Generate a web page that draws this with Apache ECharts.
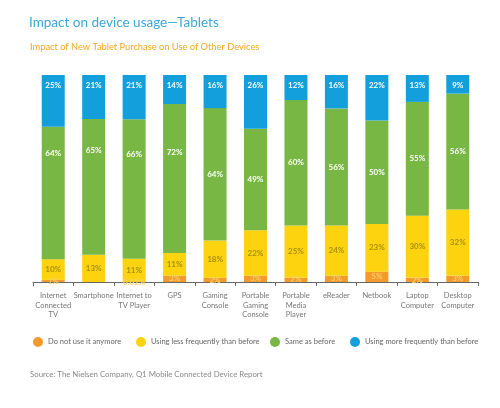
<!DOCTYPE html>
<html>
<head>
<meta charset="utf-8">
<script src="https://cdn.jsdelivr.net/npm/echarts@6/dist/echarts.min.js"></script>
<style>html,body{margin:0;padding:0;background:#fff}#c{width:500px;height:408px}</style>
</head>
<body>
<div id="c"></div>
<script>
const categories = ['Internet\nConnected\nTV', 'Smartphone', 'Internet to\nTV Player', 'GPS', 'Gaming\nConsole', 'Portable\nGaming\nConsole', 'Portable\nMedia\nPlayer', 'eReader', 'Netbook', 'Laptop\nComputer', 'Desktop\nComputer'];
const seriesNames = ['Do not use it anymore', 'Using less frequently than before', 'Same as before', 'Using more frequently than before'];
const notAnymore   = [1, 0, 0.02, 3, 2, 3, 2, 3, 5, 2, 3];
const lessOften    = [10, 13, 11, 11, 18, 22, 25, 24, 23, 30, 32];
const sameAsBefore = [64, 65, 66, 72, 64, 49, 60, 56, 50, 55, 56];
const moreOften    = [25, 21, 21, 14, 16, 26, 12, 16, 22, 13, 9];

const allValues = [notAnymore, lessOften, sameAsBefore, moreOften];
const colors = ['#f49a2c', '#fdd20e', '#78b743', '#129fdb'];
const labelColors = ['#f9cf6a', '#a8900a', '#ffffff', '#ffffff'];
const labelPositions = ['inside', 'inside', 'inside', 'insideTop'];
// label style tweak: green labels of the first bars sit higher than centre
const greenLabelShift = [-40, -36, -35, -26, 0, 0, 0, 0, 0, 0, 0];

const totals = categories.map((_, i) => allValues.reduce((s, arr) => s + arr[i], 0));

const FONT = 'Lato, "Noto Sans", sans-serif';

const series = allValues.map((arr, s) => ({
  name: seriesNames[s],
  type: 'bar',
  stack: 'total',
  barWidth: 23,
  itemStyle: { color: colors[s] },
  label: {
    show: true,
    position: labelPositions[s],
    distance: 6,
    color: labelColors[s],
    fontSize: 8,
    fontWeight: 'bold',
    fontFamily: FONT,
    formatter: p => { const v = arr[p.dataIndex]; return v ? v + '%' : ''; }
  },
  data: arr.map((v, i) => {
    const item = { value: v / totals[i] * 100 };
    if (s === 2 && greenLabelShift[i]) item.label = { offset: [0, greenLabelShift[i]] };
    return item;
  })
}));

const legendLefts = [33, 136, 270, 350];
const legends = seriesNames.map((n, i) => ({
  data: [n],
  left: legendLefts[i],
  top: 337,
  padding: 0,
  icon: 'circle',
  itemWidth: 10,
  itemHeight: 10,
  itemGap: 0,
  textStyle: { fontSize: 7.5, color: '#666', fontFamily: FONT },
  selectedMode: false
}));

const chart = echarts.init(document.getElementById('c'), null, { renderer: 'canvas' });
chart.setOption({
  backgroundColor: '#ffffff',
  animation: false,
  title: [
    { text: 'Impact on device usage\u2014Tablets', left: 24, top: 11,
      textStyle: { fontSize: 13.5, fontWeight: 'normal', color: '#3ba6d9', fontFamily: FONT } },
    { text: 'Impact of New Tablet Purchase on Use of Other Devices', left: 25, top: 37,
      textStyle: { fontSize: 9.3, fontWeight: 'normal', color: '#f5a623', fontFamily: FONT } }
  ],
  legend: legends,
  grid: { left: 33, right: 22, top: 75, bottom: 126, containLabel: false },
  xAxis: {
    type: 'category',
    data: categories,
    axisLine: { lineStyle: { color: '#666', width: 1 } },
    axisTick: { show: true, length: 4, lineStyle: { color: '#666' } },
    axisLabel: { interval: 0, fontSize: 7.5, color: '#777', lineHeight: 9.5, margin: 9, fontFamily: FONT }
  },
  yAxis: { type: 'value', min: 0, max: 100, show: false, splitLine: { show: false } },
  series: series,
  graphic: [
    { type: 'text', left: 30, top: 370,
      style: { text: 'Source: The Nielsen Company, Q1 Mobile Connected Device Report', fontSize: 7.8, fill: '#888', fontFamily: FONT } }
  ]
});
</script>
</body>
</html>
